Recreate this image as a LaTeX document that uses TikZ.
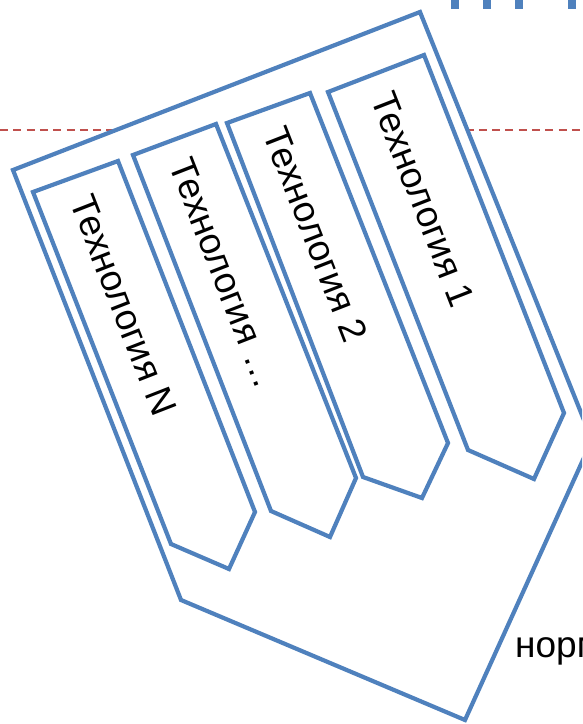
\documentclass[tikz,border=0pt]{standalone}
\usepackage{fontspec}
\setmainfont{Liberation Sans}
\definecolor{accent}{HTML}{4F81BD}
\definecolor{guidered}{HTML}{C0504D}
\begin{document}
\begin{tikzpicture}[x=1pt,y=-1pt,
  shapeline/.style={draw=accent,line width=4.2pt,line join=miter,fill=white},
  techlabel/.style={font=\fontsize{37}{44}\selectfont,anchor=west,inner sep=0pt,rotate=-68.7},
  guide/.style={draw=guidered,line width=1.6pt,dash pattern=on 8pt off 5.3pt}]
\useasboundingbox (0,0) rectangle (582,724);
\clip (0,0) rectangle (582,724);

% markers along the top edge
\foreach \xa/\xb in {451/459,483/491,515/523,568/576}
  \fill[accent] (\xa,0) rectangle (\xb,9);

% horizontal guide line, partly hidden by the outer block
\coordinate (gl) at (0,130);
\coordinate (gr) at (582,130);
\draw[guide] (gl) -- (gr);

% outer block
\coordinate (oA) at (13,170);
\coordinate (oB) at (420,12);
\coordinate (oH) at (592,440);
\coordinate (oF) at (465,720);
\coordinate (oG) at (181,600);
\draw[shapeline] (oA) -- (oB) -- (oH) -- (oF) -- (oG) -- cycle;

% technology 1
\coordinate (a1) at (328,92);
\coordinate (b1) at (424,55);
\coordinate (c1) at (564,413);
\coordinate (d1) at (534,479);
\coordinate (e1) at (468,450);
\draw[shapeline] (a1) -- (b1) -- (c1) -- (d1) -- (e1) -- cycle;

% technology 2
\coordinate (a2) at (227,123);
\coordinate (b2) at (310,93);
\coordinate (c2) at (448,443);
\coordinate (d2) at (422,498);
\coordinate (e2) at (363,477);
\draw[shapeline] (a2) -- (b2) -- (c2) -- (d2) -- (e2) -- cycle;

% technology ...
\coordinate (a3) at (133,155);
\coordinate (b3) at (216,124);
\coordinate (c3) at (356,478);
\coordinate (d3) at (330,537);
\coordinate (e3) at (271,511);
\draw[shapeline] (a3) -- (b3) -- (c3) -- (d3) -- (e3) -- cycle;

% technology N
\coordinate (a4) at (33,192);
\coordinate (b4) at (118,161);
\coordinate (c4) at (255,512);
\coordinate (d4) at (229,569);
\coordinate (e4) at (171,544);
\draw[shapeline] (a4) -- (b4) -- (c4) -- (d4) -- (e4) -- cycle;

% labels
\node[techlabel] (t1) at (381.7,93.8) {Технология 1};
\node[techlabel] (t2) at (274.2,128.3) {Технология 2};
\node[techlabel] (t3) at (180.2,159.8) {Технология …};
\node[techlabel] (t4) at (81.2,196.8) {Технология N};

\node[anchor=base west,inner sep=0pt,font=\fontsize{37}{44}\selectfont] (norm) at (515,657) {норм};
\end{tikzpicture}
\end{document}
